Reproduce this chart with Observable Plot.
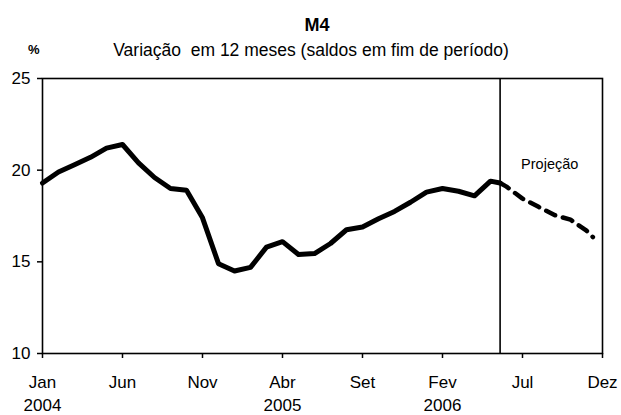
<!DOCTYPE html>
<html>
<head>
<meta charset="utf-8">
<script src="https://cdn.jsdelivr.net/npm/d3@7"></script>
<script src="https://cdn.jsdelivr.net/npm/@observablehq/plot@0.6"></script>
<style>
  html, body { margin: 0; padding: 0; background: #fff; }
  body { width: 621px; height: 415px; overflow: hidden; font-family: "Liberation Sans", Arial, sans-serif; color: #000; }
  #header { position: relative; width: 621px; height: 62px; }
  #title { position: absolute; left: 0; width: 634px; top: 14px; text-align: center; font-weight: bold; font-size: 18px; line-height: 22px; }
  #pct { position: absolute; left: 28px; top: 41px; font-size: 13px; font-weight: bold; line-height: 18px; }
  #subtitle { position: absolute; left: 0; width: 622px; top: 40px; text-align: center; font-size: 17.5px; line-height: 20px; }
</style>
</head>
<body>
<div id="header">
  <div id="title">M4</div>
  <div id="pct">%</div>
  <div id="subtitle">Variação&nbsp; em 12 meses (saldos em fim de período)</div>
</div>
<div id="chart"></div>
<script>
// Month index: 0 = Jan 2004 ... 35 = Dez 2006
const histMonths = [0,1,2,3,4,5,6,7,8,9,10,11,12,13,14,15,16,17,18,19,20,21,22,23,24,25,26,27,28,28.6];
const histValues = [19.3,19.9,20.3,20.7,21.2,21.4,20.4,19.6,19.0,18.9,17.4,14.9,14.5,14.7,15.8,16.1,15.4,15.45,16.0,16.75,16.9,17.35,17.75,18.25,18.8,19.0,18.85,18.6,19.4,19.3];
const projMonths = [28.6,29,30,31,32,33,34,34.4];
const projValues = [19.3,19.1,18.45,18.0,17.55,17.3,16.7,16.35];
const projStart = 28.6;
const tickMonths = [0,5,10,15,20,25,30,35];
const tickLabels = ["Jan\n2004","Jun","Nov","Abr\n2005","Set","Fev\n2006","Jul","Dez"];
const yTicks = [10,15,20,25];
const projLabel = "Projeção";

const hist = histMonths.map((m,i) => ({m, v: histValues[i]}));
const proj = projMonths.map((m,i) => ({m, v: projValues[i]}));
const labelOf = new Map(tickMonths.map((m,i) => [m, tickLabels[i]]));

const chart = Plot.plot({
  width: 621,
  height: 353,
  marginTop: 16,
  marginLeft: 42,
  marginRight: 19,
  marginBottom: 62,
  style: {fontFamily: "'Liberation Sans', Arial, sans-serif", fontSize: "17px", color: "#000", background: "#fff"},
  x: {domain: [0, 35]},
  y: {domain: [10, 25]},
  marks: [
    Plot.frame({stroke: "#000", strokeWidth: 1.6}),
    Plot.axisY({ticks: yTicks, tickSize: 5, tickPadding: 7, label: null, strokeWidth: 1.5}),
    Plot.axisX({ticks: tickMonths, tickFormat: d => labelOf.get(d), tickSize: 5, tickPadding: 14, label: null, lineHeight: 1.31, strokeWidth: 1.5}),
    Plot.ruleX([projStart], {stroke: "#000", strokeWidth: 1.6}),
    Plot.line(hist, {x: "m", y: "v", stroke: "#000", strokeWidth: 5, strokeLinejoin: "round", strokeLinecap: "round"}),
    Plot.line(proj, {x: "m", y: "v", stroke: "#000", strokeWidth: 4.5, strokeDasharray: "10,8"}),
    Plot.text([projLabel], {x: () => 31.7, y: () => 20.3, fontSize: 14.5, textAnchor: "middle"})
  ]
});
document.getElementById("chart").appendChild(chart);
</script>
</body>
</html>
